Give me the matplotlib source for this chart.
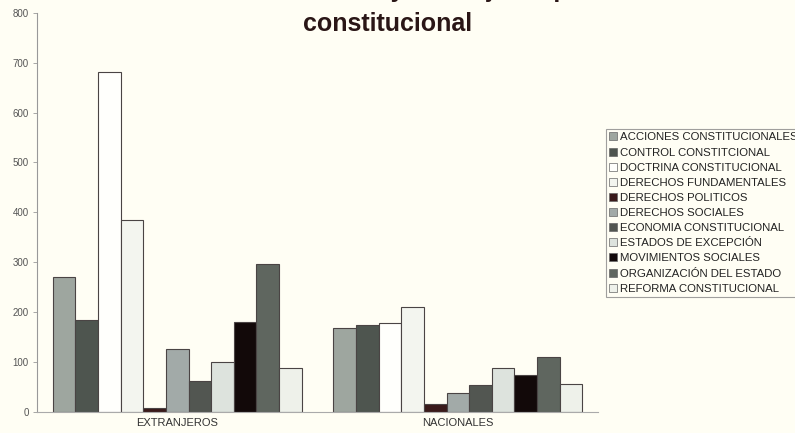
import numpy as np
import matplotlib.pyplot as plt
from matplotlib.patches import Patch

plt.rcParams['font.family'] = ['Liberation Sans', 'DejaVu Sans']

# data
groups = ["EXTRANJEROS", "NACIONALES"]
temas = ["ACCIONES CONSTITUCIONALES", "CONTROL CONSTITCIONAL", "DOCTRINA CONSTITUCIONAL",
         "DERECHOS FUNDAMENTALES", "DERECHOS POLITICOS", "DERECHOS SOCIALES",
         "ECONOMIA CONSTITUCIONAL", "ESTADOS DE EXCEPCIÓN", "MOVIMIENTOS SOCIALES",
         "ORGANIZACIÓN DEL ESTADO", "REFORMA CONSTITUCIONAL"]
extranjeros = [270, 185, 681, 384, 8, 126, 62, 100, 180, 297, 88]
nacionales = [168, 175, 179, 210, 17, 39, 54, 88, 75, 111, 57]
yticks = [0, 100, 200, 300, 400, 500, 600, 700, 800]

colores = ["#9ea69f", "#4e554f", "#fffffc", "#f3f5ef", "#3a1a1a", "#a2aaa8",
           "#525651", "#dde3dd", "#120909", "#5f665f", "#eef1ea"]
bg = "#fffef4"

fig = plt.figure(figsize=(7.95, 4.33), dpi=100, facecolor=bg)
ax = fig.add_axes([0.0465, 0.0485, 0.706, 0.922], facecolor=bg)

valores = np.array([extranjeros, nacionales])
n = len(temas)
w = 0.887 / n
x = np.arange(len(groups))
for i in range(n):
    ax.bar(x - 0.887 / 2 + w * (i + 0.5), valores[:, i], width=w,
           color=colores[i], edgecolor="#4a4444", linewidth=0.8)

ax.set_xlim(-0.5, 1.5)
ax.set_ylim(0, 800)
ax.set_yticks(yticks)
ax.set_xticks(x)
ax.set_xticklabels(groups, fontsize=8, color="#333333")
ax.tick_params(axis='x', length=0, pad=4)
ax.tick_params(axis='y', labelsize=7, labelcolor="#555555", color="#999999",
               length=3, width=0.6, pad=3)
for s in ["top", "right"]:
    ax.spines[s].set_visible(False)
ax.spines["left"].set_color("#999999")
ax.spines["left"].set_linewidth(0.8)
ax.spines["bottom"].set_color("#aaaaaa")
ax.spines["bottom"].set_linestyle((0, (1, 1)))
ax.spines["bottom"].set_linewidth(0.8)
ax.spines["bottom"].set_bounds(-0.5, 1.5)

# title: first line is cut by the top edge in the reference, only descenders show
fig.text(775 / 795, 1 + 3 / 433, "Autores nacionales y extranjeros por temas del área",
         ha='right', va='baseline', fontsize=18, fontweight='bold', color="#2a1616")
fig.text(0.488, 1 - 31 / 433, "constitucional", ha='center', va='baseline',
         fontsize=18, fontweight='bold', color="#2a1616")

handles = [Patch(facecolor=c, edgecolor="#666666", linewidth=0.5) for c in colores]
leg = fig.legend(handles, temas, loc='upper left',
                 bbox_to_anchor=(606 / 795, 1 - 129 / 433), fontsize=8.2,
                 frameon=True, fancybox=False, handlelength=0.7, handleheight=0.7,
                 handletextpad=0.25, labelspacing=0.45, borderpad=0.3,
                 borderaxespad=0)
leg.get_frame().set_edgecolor("#888888")
leg.get_frame().set_linewidth(0.8)
leg.get_frame().set_facecolor(bg)
for t in leg.get_texts():
    t.set_color("#222222")

fig.savefig("out.png", dpi=100, facecolor=bg)
